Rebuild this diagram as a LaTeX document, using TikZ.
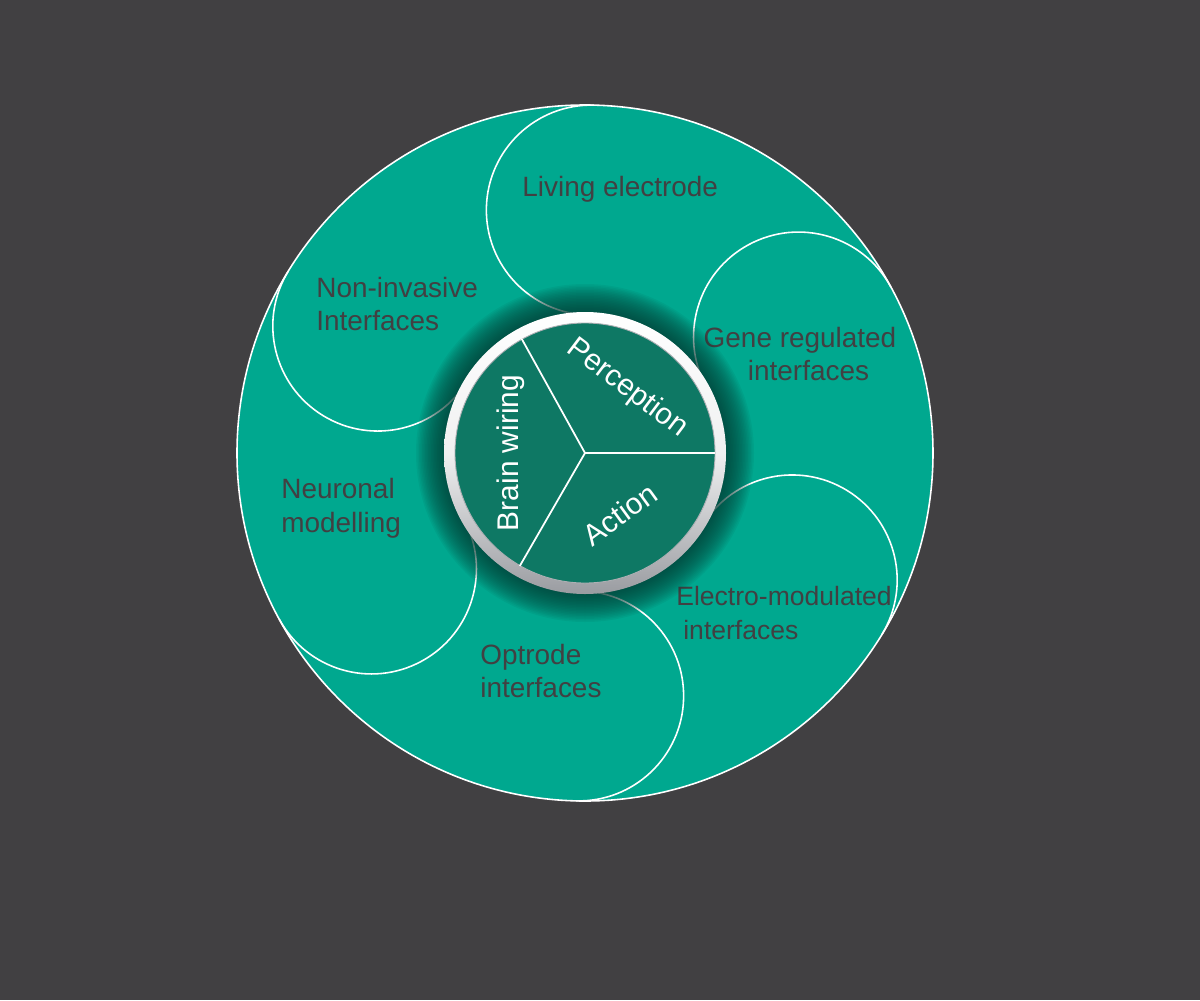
\documentclass[tikz,border=0pt]{standalone}
\usepackage{fontspec}
\setmainfont{Liberation Sans}
\usetikzlibrary{positioning}
\definecolor{bgdark}{HTML}{414042}
\definecolor{petalteal}{HTML}{00A88F}
\definecolor{coredark}{HTML}{0E7864}
\definecolor{labgray}{HTML}{414042}
\definecolor{shadowc}{HTML}{053A32}
\definecolor{ringgray}{HTML}{9A9CA1}
\tikzset{
  petal/.style={draw=white, line width=0.9pt},
  lab/.style={text=labgray, font=\fontsize{15.9}{19.3}\selectfont,
              inner sep=0pt, align=left, anchor=west},
  corelab/.style={text=white, font=\fontsize{17}{20}\selectfont, inner sep=0pt},
  divider/.style={draw=white, line width=1pt},
}
\begin{document}
\begin{tikzpicture}

\fill[bgdark] (-11.7,-10.94) rectangle (12.3,9.06);
\fill[petalteal] (0,0) circle (6.96);

% six petals, each tangent to the rim
\foreach \a in {88.5,28.5,-31.5,-91.5,-151.5,148.5}
  \draw[petal] (\a:2.76) arc[start angle=\a+180, end angle=\a, radius=2.1];
\draw[petal] (0,0) circle (6.96);

\node[lab] (living) at (-1.26,5.28) {Living electrode};
\node[lab] (noninv) at (-5.38,2.98) {Non-invasive\\Interfaces};
\node[lab, align=center, anchor=center] (gene) at (4.3,1.98)
  {Gene regulated\\\hspace{0.34cm}interfaces};
\node[lab] (neuro) at (-6.08,-1.1) {Neuronal\\modelling};
\node[lab, font=\fontsize{15.1}{19.3}\selectfont] (electro) at (1.82,-3.2)
  {Electro-modulated\\\hspace{0.14cm}interfaces};
\node[lab] (optrode) at (-2.1,-4.36) {Optrode\\interfaces};

% soft shadow round the hub
\foreach \r in {2.84,2.87,...,3.38}
  \fill[shadowc, opacity=0.065] (0,0) circle (\r);

\node[circle, inner sep=0pt, minimum size=5.64cm, top color=white,
      bottom color=ringgray, middle color=white!85!ringgray] (ring) at (0,0) {};
\node[circle, inner sep=0pt, minimum size=5.2cm, fill=coredark,
      draw=ringgray!80, line width=0.5pt] (core) at (0,0) {};

\draw[divider] (core.center) -- (core.0);
\draw[divider] (core.center) -- (core.119);
\draw[divider] (core.center) -- (core.240);

\node[corelab, rotate=-37] (perc) at (0.84,1.3) {Perception};
\node[corelab, rotate=36] (act) at (0.7,-1.22) {Action};
\node[corelab, rotate=90] (brain) at (-1.48,0) {Brain wiring};

\end{tikzpicture}
\end{document}
